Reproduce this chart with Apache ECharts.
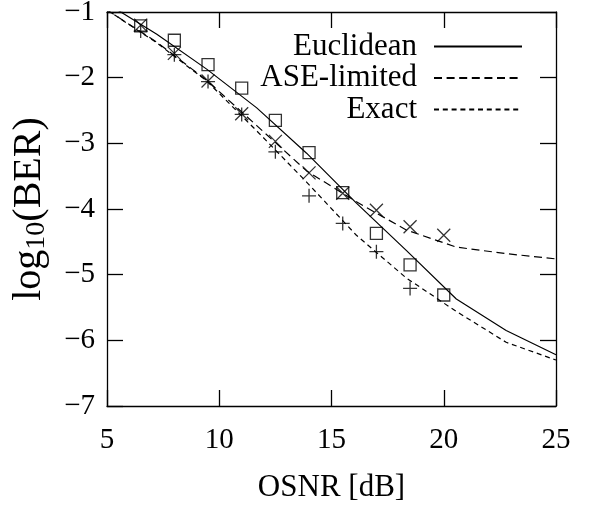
<!DOCTYPE html>
<html>
<head>
<meta charset="utf-8">
<script src="https://cdn.jsdelivr.net/npm/echarts@6/dist/echarts.min.js"></script>
<style>
  html, body { margin: 0; padding: 0; background: #fff; }
  #main { width: 589px; height: 505px; }
</style>
</head>
<body>
<div id="main"></div>
<script>
// 曲线 (理论) 的 OSNR 采样点
var curveOsnr = [5, 7.22, 9.44, 11.67, 13.89, 16.11, 18.33, 20.56, 22.78, 25];
var euclidean = [-0.87, -1.34, -1.87, -2.46, -3.15, -3.91, -4.63, -5.37, -5.85, -6.22];
var aseLimited = [-0.97, -1.46, -2.04, -2.73, -3.42, -3.89, -4.32, -4.58, -4.68, -4.76];
var exact = [-0.97, -1.47, -2.05, -2.81, -3.59, -4.40, -5.05, -5.56, -6.03, -6.30];

// 仿真点
var simOsnr = [6.5, 8, 9.5, 11, 12.5, 14, 15.5, 17, 18.5, 20];
var simEuclidean = [-1.21, -1.43, -1.80, -2.16, -2.65, -3.14, -3.75, -4.37, -4.85, -5.31];
var simAse = [-1.20, -1.63, -2.05, -2.55, -2.97, -3.45, -3.76, -4.02, -4.27, -4.40];
var simExact = [-1.29, -1.65, -2.06, -2.56, -3.13, -3.80, -4.22, -4.65, -5.21];

var xTicks = [5, 10, 15, 20, 25];
var yTicks = [-7, -6, -5, -4, -3, -2, -1];

function pairs(xs, ys) {
    return ys.map(function (y, i) { return [xs[i], y]; });
}

var FONT = '"Liberation Serif", "Times New Roman", serif';
var myChart = echarts.init(document.getElementById('main'));

var axisCommon = {
    type: 'value',
    axisLine: { show: true, onZero: false, lineStyle: { color: '#000', width: 1.3 } },
    axisTick: { show: true, inside: true, length: 16, lineStyle: { color: '#000', width: 1.3 } },
    splitLine: { show: false }
};

var option = {
    animation: false,
    backgroundColor: '#fff',
    grid: { left: 107, right: 33, top: 12, bottom: 99, outerBoundsMode: 'none' },
    //图例
    legend: {
        data: ['Euclidean', 'ASE-limited', 'Exact'],
        orient: 'vertical',
        align: 'right',
        right: 66,
        top: 31,
        padding: 0,
        itemWidth: 88,
        itemHeight: 31,
        itemGap: 0.5,
        itemStyle: { opacity: 0, borderWidth: 0 },
        textStyle: { fontFamily: FONT, fontSize: 31, color: '#000', padding: [0, 12, 0, 0] },
        selectedMode: false
    },
    xAxis: [
        Object.assign({}, axisCommon, {
            position: 'bottom', min: 5, max: 25, interval: 5,
            name: 'OSNR [dB]', nameLocation: 'middle', nameGap: 66,
            nameTextStyle: { fontFamily: FONT, fontSize: 31, color: '#000' },
            axisLabel: {
                margin: 20, fontFamily: FONT, fontSize: 29, color: '#000',
                customValues: xTicks
            }
        }),
        Object.assign({}, axisCommon, {
            position: 'top', min: 5, max: 25, interval: 5,
            axisLabel: { show: false }
        })
    ],
    yAxis: [
        Object.assign({}, axisCommon, {
            position: 'left', min: -7, max: -1, interval: 1,
            name: '{a|log}{s|10}{a|(BER)}', nameLocation: 'middle', nameGap: 56, nameRotate: 90,
            nameTextStyle: {
                rich: {
                    a: { fontFamily: FONT, fontSize: 40, color: '#000' },
                    s: { fontFamily: FONT, fontSize: 28, color: '#000', verticalAlign: 'bottom', padding: [16, 0, 0, 0] }
                }
            },
            axisLabel: {
                margin: 12, fontFamily: FONT, fontSize: 29, color: '#000',
                customValues: yTicks,
                formatter: function (v) { return (v < 0 ? '\u2212' : '') + Math.abs(v); }
            }
        }),
        Object.assign({}, axisCommon, {
            position: 'right', min: -7, max: -1, interval: 1,
            axisLabel: { show: false }
        })
    ],
    series: [
        {
            name: 'Euclidean', type: 'line', showSymbol: false, symbol: 'none',
            data: pairs(curveOsnr, euclidean),
            lineStyle: { color: '#000', width: 1.2, type: 'solid' },
            itemStyle: { color: '#000' },
            emphasis: { disabled: true }
        },
        {
            name: 'ASE-limited', type: 'line', showSymbol: false, symbol: 'none',
            data: pairs(curveOsnr, aseLimited),
            lineStyle: { color: '#000', width: 1.2, type: [8, 4.6] },
            itemStyle: { color: '#000' },
            emphasis: { disabled: true }
        },
        {
            name: 'Exact', type: 'line', showSymbol: false, symbol: 'none',
            data: pairs(curveOsnr, exact),
            lineStyle: { color: '#000', width: 1.2, type: [5, 3.8] },
            itemStyle: { color: '#000' },
            emphasis: { disabled: true }
        },
        {
            name: 'sim-euclidean', type: 'scatter',
            symbol: 'path://M0,0H10V10H0Z', symbolSize: 12,
            data: pairs(simOsnr, simEuclidean),
            itemStyle: { color: 'transparent', borderColor: '#000', borderWidth: 1.3 },
            emphasis: { disabled: true }
        },
        {
            name: 'sim-ase', type: 'scatter',
            symbol: 'path://M0,0L10,10M10,0L0,10', symbolSize: 13,
            data: pairs(simOsnr, simAse),
            itemStyle: { color: 'transparent', borderColor: '#000', borderWidth: 1.3 },
            emphasis: { disabled: true }
        },
        {
            name: 'sim-exact', type: 'scatter',
            symbol: 'path://M5,0V10M0,5H10', symbolSize: 14,
            data: pairs(simOsnr, simExact),
            itemStyle: { color: 'transparent', borderColor: '#000', borderWidth: 1.3 },
            emphasis: { disabled: true }
        }
    ]
};

myChart.setOption(option);
</script>
</body>
</html>
